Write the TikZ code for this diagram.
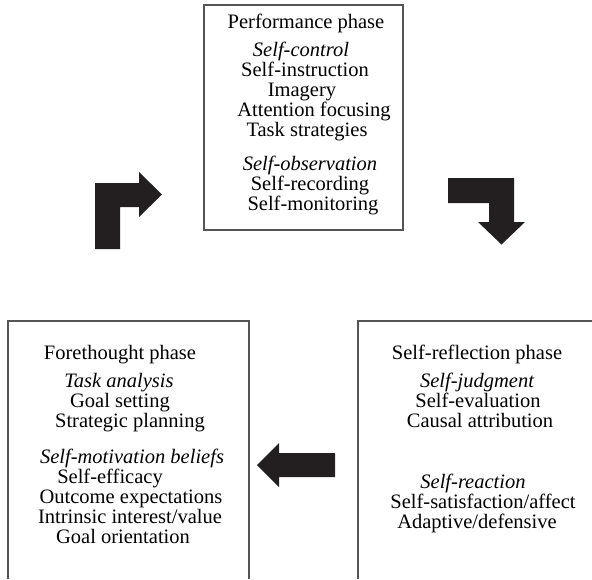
\documentclass[tikz,border=0pt]{standalone}
\usepackage{fontspec}
\setmainfont{Liberation Serif}
\definecolor{boxline}{HTML}{555555}
\definecolor{arrowfill}{HTML}{231F20}
\tikzset{
  txt/.style={font=\fontsize{20.5}{20}\selectfont, anchor=base, inner sep=0pt},
  itxt/.style={txt, font=\fontsize{20.5}{20}\selectfont\itshape},
  frame/.style={draw=boxline, line width=1.3pt},
  bigarrow/.style={fill=arrowfill, draw=none}
}
\begin{document}
\begin{tikzpicture}[x=1pt,y=-1pt]
\useasboundingbox (0,0) rectangle (592,579);
% boxes
\draw[frame] (204,5) rectangle (403,230);
\draw[frame] (8,579) -- (8,321) -- (249,321) -- (249,579);
\draw[frame] (592,321) -- (358,321) -- (358,579);
% arrows
\fill[bigarrow] (95,249) -- (95,183) -- (139,183) -- (139,172) -- (162,194.5) -- (139,217) -- (139,207) -- (120,207) -- (120,249) -- cycle;
\fill[bigarrow] (448,178) -- (514,178) -- (514,222) -- (525,222) -- (501.5,244.5) -- (478,222) -- (489,222) -- (489,203) -- (448,203) -- cycle;
\fill[bigarrow] (257,465) -- (279,443) -- (279,453) -- (335,453) -- (335,477) -- (279,477) -- (279,487) -- cycle;
% performance phase
\node[txt] (p0) at (306,28) {Performance phase};
\node[itxt] (p1) at (301,56) {Self-control};
\node[txt] (p2) at (305,76) {Self-instruction};
\node[txt] (p3) at (302,96) {Imagery};
\node[txt] (p4) at (314,116) {Attention focusing};
\node[txt] (p5) at (307,136) {Task strategies};
\node[itxt] (p6) at (310,170) {Self-observation};
\node[txt] (p7) at (310,190) {Self-recording};
\node[txt] (p8) at (313,210) {Self-monitoring};
% forethought phase
\node[txt] (f0) at (120,359) {Forethought phase};
\node[itxt] (f1) at (119,387) {Task analysis};
\node[txt] (f2) at (120,407) {Goal setting};
\node[txt] (f3) at (130,427) {Strategic planning};
\node[itxt] (f4) at (132,463) {Self-motivation beliefs};
\node[txt] (f5) at (110,483) {Self-efficacy};
\node[txt] (f6) at (131,503) {Outcome expectations};
\node[txt] (f7) at (130,523) {Intrinsic interest/value};
\node[txt] (f8) at (123,543) {Goal orientation};
% self-reflection phase
\node[txt] (r0) at (477,359) {Self-reflection phase};
\node[itxt] (r1) at (477,387) {Self-judgment};
\node[txt] (r2) at (478,407) {Self-evaluation};
\node[txt] (r3) at (480,427) {Causal attribution};
\node[itxt] (r4) at (473,488) {Self-reaction};
\node[txt] (r5) at (483,508) {Self-satisfaction/affect};
\node[txt] (r6) at (477,528) {Adaptive/defensive};
\end{tikzpicture}
\end{document}
